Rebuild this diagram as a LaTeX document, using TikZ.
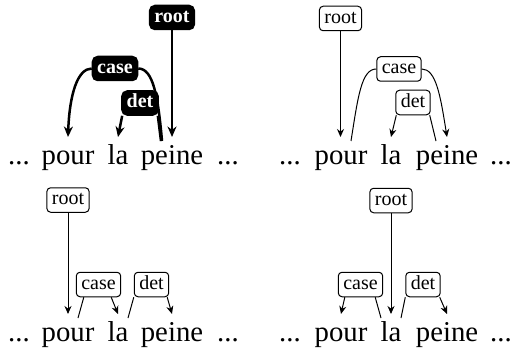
\documentclass[tikz,border=0pt]{standalone}
\usepackage{fontspec}
\setmainfont{Liberation Serif}
\usetikzlibrary{arrows.meta}

\begin{document}
\begin{tikzpicture}[x=0.4pt, y=0.4pt,
    wordnode/.style={anchor=base, inner xsep=0pt, inner ysep=2.2pt, text height=8.4pt, text depth=2.5pt, font=\fontsize{11.5}{13}\selectfont},
    thinbox/.style={draw, line width=0.4pt, rounded corners=1.5pt, inner xsep=2pt, inner ysep=1.4pt, text height=5.4pt, text depth=1.6pt, font=\fontsize{8}{9.6}\selectfont},
    boldbox/.style={draw, fill=black, text=white, line width=0.8pt, rounded corners=2pt, inner xsep=1.8pt, inner ysep=1.2pt, text height=5.4pt, text depth=1.6pt, font=\fontsize{8}{9.6}\selectfont\bfseries},
    thinline/.style={line width=0.4pt},
    thinarc/.style={line width=0.4pt, -{Stealth[length=3.2pt, width=2.8pt]}},
    boldline/.style={line width=1pt},
    boldarc/.style={line width=1pt, -{Stealth[length=4.2pt, width=3.6pt]}},
    arcbend/.style={out looseness=0.5, in looseness=1.5}
]
    \useasboundingbox (0,0) rectangle (513,354);

    % top left
    \node[wordnode] (tldotsa) at (19,190) {...};
    \node[wordnode] (tlpour) at (68,190) {pour};
    \node[wordnode] (tlla) at (118,190) {la};
    \node[wordnode] (tlpeine) at (172,190) {peine};
    \node[wordnode] (tldotsb) at (228,190) {...};
    \node[boldbox] (tlroot) at (172,336.5) {root};
    \node[boldbox] (tlcase) at (115,285.5) {case};
    \node[boldbox] (tldet) at (140,251) {det};
    \draw[boldarc] (tlroot.south) -- (tlroot.south |- tlpeine.north);
    \draw[boldarc] (tlcase.west) to[out=180, in=88, arcbend] (tlpour.north);
    \draw[boldline] (tlcase.east) to[out=0, in=95, arcbend] ([xshift=-4pt, yshift=-1.6pt]tlpeine.north);
    \draw[boldarc] ([xshift=0.4pt]tldet.south west) -- (tlla.north);
    \draw[boldline] ([xshift=-0.4pt]tldet.south east) -- ([xshift=-4.4pt, yshift=-1.6pt]tlpeine.north);

    % top right
    \node[wordnode] (trdotsa) at (290,190) {...};
    \node[wordnode] (trpour) at (341,190) {pour};
    \node[wordnode] (trla) at (391,190) {la};
    \node[wordnode] (trpeine) at (447,190) {peine};
    \node[wordnode] (trdotsb) at (501,190) {...};
    \node[thinbox] (trroot) at (340.5,335.5) {root};
    \node[thinbox] (trcase) at (399,285) {case};
    \node[thinbox] (trdet) at (413,251.5) {det};
    \draw[thinarc] (trroot.south) -- (trroot.south |- trpour.north);
    \draw[thinline] (trcase.west) to[out=180, in=81, arcbend] ([xshift=4pt, yshift=-1.6pt]trpour.north);
    \draw[thinarc] (trcase.east) to[out=0, in=99, arcbend] (trpeine.north);
    \draw[thinarc] ([xshift=0.4pt]trdet.south west) -- (trla.north);
    \draw[thinline] ([xshift=-0.4pt]trdet.south east) -- ([xshift=-4.4pt, yshift=-1.6pt]trpeine.north);

    % bottom left
    \node[wordnode] (bldotsa) at (19,13) {...};
    \node[wordnode] (blpour) at (68,13) {pour};
    \node[wordnode] (blla) at (118,13) {la};
    \node[wordnode] (blpeine) at (172,13) {peine};
    \node[wordnode] (bldotsb) at (228,13) {...};
    \node[thinbox] (blroot) at (68,154) {root};
    \node[thinbox] (blcase) at (98.5,69.5) {case};
    \node[thinbox] (bldet) at (151.5,69.5) {det};
    \draw[thinarc] (blroot.south) -- (blroot.south |- blpour.north);
    \draw[thinline] ([xshift=3.2pt]blcase.south west) -- ([xshift=4pt, yshift=-1.6pt]blpour.north);
    \draw[thinarc] ([xshift=-4pt]blcase.south east) -- (blla.north);
    \draw[thinline] (bldet.south west) -- ([xshift=4pt, yshift=-1.6pt]blla.north);
    \draw[thinarc] ([xshift=-0.8pt]bldet.south east) -- (blpeine.north);

    % bottom right
    \node[wordnode] (brdotsa) at (290,13) {...};
    \node[wordnode] (brpour) at (341,13) {pour};
    \node[wordnode] (brla) at (391,13) {la};
    \node[wordnode] (brpeine) at (447,13) {peine};
    \node[wordnode] (brdotsb) at (501,13) {...};
    \node[thinbox] (brroot) at (391,153.5) {root};
    \node[thinbox] (brcase) at (360.5,69.5) {case};
    \node[thinbox] (brdet) at (423,69.5) {det};
    \draw[thinarc] (brroot.south) -- (brroot.south |- brla.north);
    \draw[thinarc] ([xshift=2.8pt]brcase.south west) -- (brpour.north);
    \draw[thinline] ([xshift=-3.2pt]brcase.south east) -- ([xshift=-4pt, yshift=-1.6pt]brla.north);
    \draw[thinline] (brdet.south west) -- ([xshift=4pt, yshift=-1.6pt]brla.north);
    \draw[thinarc] ([xshift=-0.4pt]brdet.south east) -- (brpeine.north);
\end{tikzpicture}
\end{document}
